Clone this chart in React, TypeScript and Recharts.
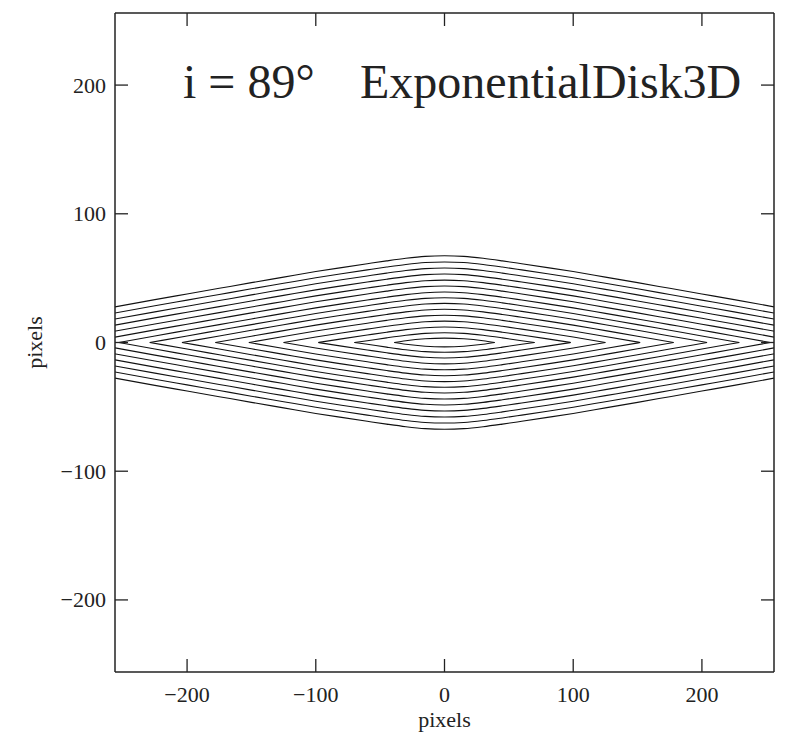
import { LineChart, Line, XAxis, YAxis } from 'recharts';

const W = 790;
const H = 732;
const TICK_LEN = 13;
const FONT = "'Liberation Serif', 'Times New Roman', serif";
const INK = '#222';

const DOMAIN: [number, number] = [-256, 256];
const X_TICKS = [-200, -100, 0, 100, 200];
const Y_TICKS = [-200, -100, 0, 100, 200];

const CONTOUR_X = [0, 15, 30, 45, 60, 80, 100, 125, 150, 175, 200, 225, 256];

// height above the midplane at CONTOUR_X, innermost contour first
const Z1 = [3.4, 2.9, 1.4];
const Z2 = [7.6, 7.1, 5.6, 3.6, 1.4];
const Z3 = [12.0, 11.5, 10.0, 8.0, 5.8, 2.8];
const Z4 = [16.6, 16.1, 14.6, 12.6, 10.4, 7.4, 4.3];
const Z5 = [21.2, 20.7, 19.2, 17.2, 15.0, 12.0, 8.9, 4.6];
const Z6 = [25.8, 25.3, 23.8, 21.8, 19.6, 16.6, 13.5, 9.2, 4.9];
const Z7 = [30.4, 29.9, 28.4, 26.4, 24.2, 21.2, 18.1, 13.8, 9.5, 5.1];
const Z8 = [34.8, 34.3, 32.8, 30.8, 28.6, 25.6, 22.5, 18.2, 13.9, 9.5, 5.1];
const Z9 = [39.2, 38.7, 37.2, 35.2, 33.0, 30.0, 26.9, 22.6, 18.3, 13.9, 9.5, 5.1];
const Z10 = [43.9, 43.4, 41.9, 39.9, 37.7, 34.7, 31.6, 27.3, 23.0, 18.6, 14.2, 9.8, 4.2];
const Z11 = [48.5, 48.0, 46.5, 44.5, 42.3, 39.3, 36.2, 31.9, 27.6, 23.2, 18.8, 14.4, 8.8];
const Z12 = [53.2, 52.7, 51.2, 49.2, 47.0, 44.0, 40.9, 36.6, 32.3, 27.9, 23.5, 19.1, 13.5];
const Z13 = [57.9, 57.4, 55.9, 53.9, 51.7, 48.7, 45.6, 41.3, 37.0, 32.6, 28.2, 23.8, 18.2];
const Z14 = [62.6, 62.1, 60.6, 58.6, 56.4, 53.4, 50.3, 46.0, 41.7, 37.3, 32.9, 28.5, 22.9];
const Z15 = [67.4, 66.9, 65.4, 63.4, 61.2, 58.2, 55.1, 50.8, 46.5, 42.1, 37.7, 33.3, 27.7];

// where the closed contours meet the midplane (null = runs off the frame)
const TIPS = [39, 70, 98, 125, 152, 178, 204, 229, 253, null, null, null, null, null, null];

const CONTOURS = [Z1, Z2, Z3, Z4, Z5, Z6, Z7, Z8, Z9, Z10, Z11, Z12, Z13, Z14, Z15];

type Pt = { x: number; y: number };

// the image is symmetric in x and z, so each quarter is mirrored into an upper and lower branch
const branches: Pt[][] = [];
CONTOURS.forEach((zs, k) => {
    const quarter: Pt[] = zs.map((z, i) => ({ x: CONTOUR_X[i], y: z }));
    const tip = TIPS[k];
    if (tip !== null) quarter.push({ x: tip, y: 0 });
    const upper = [...quarter.slice(1).reverse().map((p) => ({ x: -p.x, y: p.y })), ...quarter];
    branches.push(upper);
    branches.push(upper.map((p) => ({ x: p.x, y: -p.y })));
});

const fmt = (v: number) => String(v).replace('-', '\u2212');

function LeftTick({ x, y, payload }: any) {
    return (
        <g>
            <line x1={x} x2={x + TICK_LEN} y1={y} y2={y} stroke={INK} strokeWidth={1.3} />
            <text x={x - 9} y={y} dy="0.34em" textAnchor="end" fontFamily={FONT} fontSize={22} fill="#222">
                {fmt(payload.value)}
            </text>
        </g>
    );
}

function RightTick({ x, y }: any) {
    return <line x1={x} x2={x - TICK_LEN} y1={y} y2={y} stroke={INK} strokeWidth={1.3} />;
}

function TopTick({ x, y }: any) {
    return <line x1={x} x2={x} y1={y} y2={y + TICK_LEN} stroke={INK} strokeWidth={1.3} />;
}

function BottomTick({ x, y, payload }: any) {
    return (
        <g>
            <line x1={x} x2={x} y1={y} y2={y - TICK_LEN} stroke={INK} strokeWidth={1.3} />
            <text x={x} y={y + 30} textAnchor="middle" fontFamily={FONT} fontSize={22} fill="#222">
                {fmt(payload.value)}
            </text>
        </g>
    );
}

const axisLine = { stroke: INK, strokeWidth: 1.5 };

export default function App() {
    return (
        <div style={{ position: 'absolute', left: 0, top: 0, width: W, height: H, background: '#fff' }}>
            <LineChart width={W} height={H} margin={{ top: 12, right: 15, bottom: 59, left: 114 }}>
                <XAxis
                    xAxisId="b"
                    type="number"
                    dataKey="x"
                    domain={DOMAIN}
                    allowDataOverflow
                    ticks={X_TICKS}
                    interval={0}
                    height={1}
                    tickSize={0}
                    tickMargin={0}
                    tickLine={false}
                    axisLine={axisLine}
                    tick={<BottomTick />}
                />
                <XAxis
                    xAxisId="t"
                    orientation="top"
                    type="number"
                    dataKey="x"
                    domain={DOMAIN}
                    allowDataOverflow
                    ticks={X_TICKS}
                    interval={0}
                    height={1}
                    tickSize={0}
                    tickMargin={0}
                    tickLine={false}
                    axisLine={axisLine}
                    tick={<TopTick />}
                />
                <YAxis
                    yAxisId="l"
                    type="number"
                    domain={DOMAIN}
                    allowDataOverflow
                    ticks={Y_TICKS}
                    interval={0}
                    width={1}
                    tickSize={0}
                    tickMargin={0}
                    tickLine={false}
                    axisLine={axisLine}
                    tick={<LeftTick />}
                />
                <YAxis
                    yAxisId="r"
                    orientation="right"
                    type="number"
                    domain={DOMAIN}
                    allowDataOverflow
                    ticks={Y_TICKS}
                    interval={0}
                    width={1}
                    tickSize={0}
                    tickMargin={0}
                    tickLine={false}
                    axisLine={axisLine}
                    tick={<RightTick />}
                />
                {branches.map((pts, i) => (
                    <Line
                        key={i}
                        xAxisId="b"
                        yAxisId="l"
                        data={pts}
                        dataKey="y"
                        type="monotone"
                        stroke="#111"
                        strokeWidth={1.1}
                        dot={false}
                        activeDot={false}
                        isAnimationActive={false}
                    />
                ))}
            </LineChart>
            <svg width={W} height={H} style={{ position: 'absolute', left: 0, top: 0, pointerEvents: 'none' }}>
                <text x={183} y={98} fontFamily={FONT} fontSize={48} fill="#222">i = 89°</text>
                <text x={360} y={98} fontFamily={FONT} fontSize={48} fill="#222">ExponentialDisk3D</text>
                <text x={444.5} y={727} textAnchor="middle" fontFamily={FONT} fontSize={22} fill="#222">pixels</text>
                <text
                    x={0}
                    y={0}
                    transform="translate(42 342.5) rotate(-90)"
                    textAnchor="middle"
                    fontFamily={FONT}
                    fontSize={22}
                    fill="#222"
                >
                    pixels
                </text>
            </svg>
        </div>
    );
}
